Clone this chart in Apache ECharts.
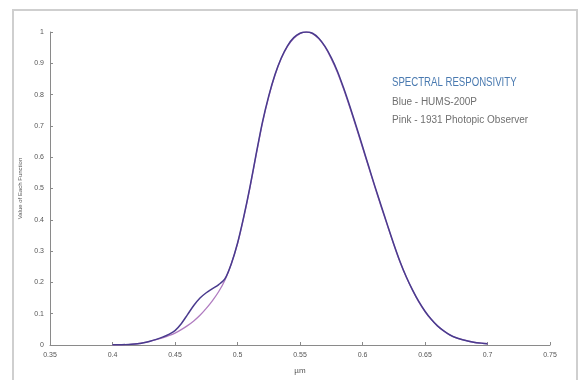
<!DOCTYPE html>
<html>
<head>
<meta charset="utf-8">
<script src="https://cdn.jsdelivr.net/npm/echarts@6/dist/echarts.min.js"></script>
<style>html,body{margin:0;padding:0;background:#fff;}#c{width:580px;height:380px;}</style>
</head>
<body>
<div id="c"></div>
<script>
const wavelengths = [0.400,0.405,0.410,0.415,0.420,0.425,0.430,0.435,0.440,0.445,0.450,0.455,0.460,0.465,0.470,0.475,0.480,0.485,0.490,0.495,0.500,0.505,0.510,0.515,0.520,0.525,0.530,0.535,0.540,0.545,0.550,0.555,0.560,0.565,0.570,0.575,0.580,0.585,0.590,0.595,0.600,0.605,0.610,0.615,0.620,0.625,0.630,0.635,0.640,0.645,0.650,0.655,0.660,0.665,0.670,0.675,0.680,0.685,0.690,0.695,0.700];
const pinkValues = [0.0004,0.0006,0.0012,0.0022,0.004,0.0073,0.0116,0.0168,0.023,0.0298,0.038,0.049,0.062,0.077,0.095,0.117,0.142,0.171,0.208,0.259,0.323,0.407,0.503,0.608,0.710,0.793,0.862,0.915,0.954,0.980,0.995,1.000,0.995,0.979,0.952,0.915,0.870,0.816,0.757,0.695,0.631,0.567,0.503,0.441,0.381,0.321,0.265,0.217,0.175,0.138,0.107,0.082,0.061,0.045,0.032,0.023,0.017,0.012,0.008,0.006,0.004];
const blueValues = [0.0004,0.0006,0.0012,0.0022,0.004,0.0075,0.012,0.018,0.025,0.034,0.046,0.068,0.097,0.126,0.150,0.167,0.180,0.193,0.212,0.259,0.325,0.410,0.506,0.612,0.713,0.796,0.864,0.917,0.956,0.982,0.996,1.000,0.996,0.980,0.954,0.918,0.874,0.820,0.761,0.699,0.635,0.570,0.506,0.444,0.383,0.323,0.267,0.218,0.176,0.139,0.108,0.082,0.061,0.045,0.032,0.023,0.017,0.012,0.008,0.006,0.004];
const xTicks = [0.35,0.4,0.45,0.5,0.55,0.6,0.65,0.7,0.75];
const yTicks = [0,0.1,0.2,0.3,0.4,0.5,0.6,0.7,0.8,0.9,1];
const titleText = 'SPECTRAL RESPONSIVITY';
const legendLines = ['Blue - HUMS-200P','Pink - 1931 Photopic Observer'];

const chart = echarts.init(document.getElementById('c'), null, {renderer:'canvas'});
const pair = (xs, ys) => xs.map((x,i)=>[x, ys[i]]);
chart.setOption({
  animation:false,
  backgroundColor:'#fff',
  grid:{left:50,right:30,top:32,bottom:28},
  xAxis:{
    type:'value', min:0.35, max:0.75, interval:0.05,
    name:'µm', nameLocation:'middle', nameGap:22,
    nameTextStyle:{fontSize:8,color:'#555',fontFamily:'Liberation Sans'},
    axisLine:{lineStyle:{color:'#8a8a8a',width:1}},
    axisTick:{inside:true,length:3,lineStyle:{color:'#8a8a8a'}},
    axisLabel:{fontSize:7,color:'#555',margin:7,fontFamily:'Liberation Sans',
      formatter:v=>String(+v.toFixed(2))},
    splitLine:{show:false}
  },
  yAxis:{
    type:'value', min:0, max:1, interval:0.1,
    name:'Value of Each Function', nameLocation:'middle', nameGap:22,
    nameTextStyle:{fontSize:6,color:'#555',fontFamily:'Liberation Sans'},
    axisLine:{show:true,lineStyle:{color:'#8a8a8a',width:1}},
    axisTick:{show:true,inside:true,length:3,lineStyle:{color:'#8a8a8a'}},
    axisLabel:{fontSize:7,color:'#555',margin:6,fontFamily:'Liberation Sans',
      formatter:v=>String(+v.toFixed(1))},
    splitLine:{show:false}
  },
  graphic:[
    {type:'rect',shape:{x:13,y:10,width:564,height:380},style:{fill:'none',stroke:'#cfcfcf',lineWidth:2},silent:true},
    {type:'text',x:392,y:76,scaleX:0.74,style:{text:titleText,fontSize:13,fill:'#4a7ab0',fontFamily:'Liberation Sans'}},
    {type:'text',x:392,y:97,style:{text:legendLines[0],fontSize:10,fill:'#707070',fontFamily:'Liberation Sans'}},
    {type:'text',x:392,y:115,style:{text:legendLines[1],fontSize:10,fill:'#707070',fontFamily:'Liberation Sans'}}
  ],
  series:[
    {name:'Pink',type:'line',data:pair(wavelengths,pinkValues),smooth:0.3,showSymbol:false,
      lineStyle:{color:'#b07cc0',width:1.3}},
    {name:'Blue',type:'line',data:pair(wavelengths,blueValues),smooth:0.3,showSymbol:false,
      lineStyle:{color:'#4a3b8e',width:1.5}}
  ]
});
</script>
</body>
</html>
